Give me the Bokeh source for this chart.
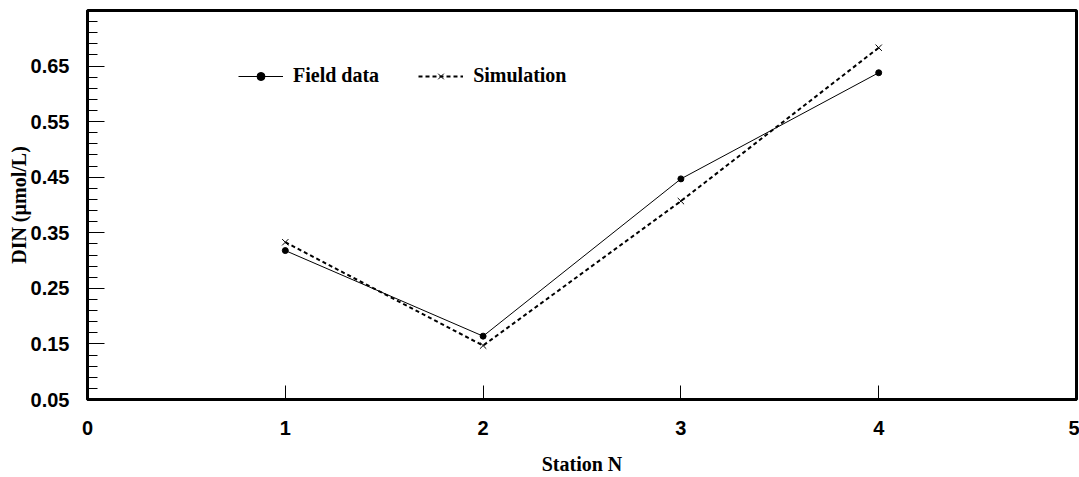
from bokeh.plotting import figure
from bokeh.models import Range1d, Legend, LegendItem, FixedTicker
from bokeh.embed import file_html
from bokeh.resources import INLINE

stations = [1, 2, 3, 4]
field_data = [0.318, 0.164, 0.447, 0.638]
simulation = [0.333, 0.147, 0.407, 0.683]
x_ticks = [0, 1, 2, 3, 4, 5]
y_ticks = [0.05, 0.15, 0.25, 0.35, 0.45, 0.55, 0.65]

p = figure(width=1079, height=477, output_backend="svg", toolbar_location=None,
           x_range=Range1d(0, 5), y_range=Range1d(0.05, 0.75),
           min_border_left=87, min_border_right=3, min_border_top=10, min_border_bottom=77)
p.grid.visible = False
p.background_fill_color = "white"
p.border_fill_color = "white"
p.outline_line_color = "black"
p.outline_line_width = 3

l1 = p.line(stations, field_data, line_color="black", line_width=1)
s1 = p.scatter(stations, field_data, marker="circle", size=6, fill_color="black", line_color="black")
l2 = p.line(stations, simulation, line_color="black", line_width=2, line_dash="4 3")
s2 = p.scatter(stations, simulation, marker="x", size=9, line_color="black", line_width=1)

legend = Legend(items=[LegendItem(label="Field data", renderers=[l1, s1]),
                       LegendItem(label="Simulation", renderers=[l2, s2])],
                orientation="horizontal", location=(151, 312),
                glyph_width=45, glyph_height=20, label_standoff=10, spacing=39,
                padding=0, margin=0, border_line_color=None, background_fill_alpha=0,
                label_text_font="Liberation Serif", label_text_font_style="bold",
                label_text_font_size="20px", label_text_color="black", label_height=20)
p.add_layout(legend, "center")

for ax in (p.xaxis[0], p.yaxis[0]):
    ax.axis_line_width = 3
    ax.axis_line_color = "black"
    ax.major_tick_out = 0
    ax.minor_tick_out = 0
    ax.major_label_text_font = "Liberation Sans"
    ax.major_label_text_font_style = "bold"
    ax.major_label_text_font_size = "20px"
    ax.major_label_text_color = "black"
    ax.axis_label_text_font = "Liberation Serif"
    ax.axis_label_text_font_style = "bold"
    ax.axis_label_text_font_size = "20px"
    ax.axis_label_text_color = "black"

p.xaxis.ticker = FixedTicker(ticks=x_ticks)
p.xaxis.major_tick_in = 14
p.xaxis.minor_tick_in = 0
p.xaxis.major_label_standoff = 21
p.xaxis.axis_label = "Station N"
p.xaxis.axis_label_standoff = 15

p.yaxis.ticker = FixedTicker(ticks=y_ticks, minor_ticks=[round(0.05 + 0.02 * i, 2) for i in range(36)])
p.yaxis.major_tick_in = 17
p.yaxis.minor_tick_in = 10
p.yaxis.major_label_standoff = 18
p.yaxis.axis_label = "DIN (\u00b5mol/L)"
p.yaxis.axis_label_standoff = -2

open("out.html", "w").write(file_html(p, INLINE))
